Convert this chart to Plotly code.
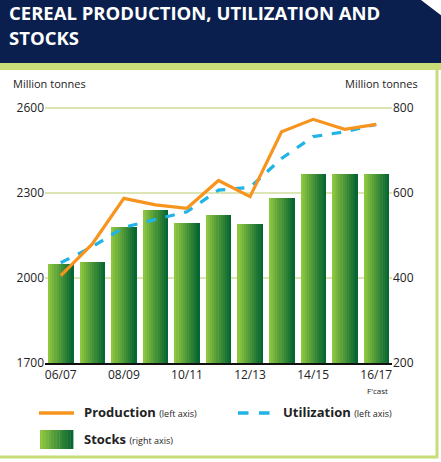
import plotly.graph_objects as go

seasons = ["06/07", "07/08", "08/09", "09/10", "10/11", "11/12", "12/13", "13/14", "14/15", "15/16", "16/17"]
tick_labels = ["06/07", "", "08/09", "", "10/11", "", "12/13", "", "14/15", "", "16/17"]
production = [2008, 2120, 2281, 2258, 2246, 2344, 2287, 2516, 2560, 2525, 2542]
utilization = [2054, 2110, 2179, 2207, 2234, 2310, 2320, 2422, 2499, 2516, 2542]
stocks = [432, 437, 519, 560, 530, 548, 526, 589, 644, 644, 644]

W, H = 441, 462
L, R, T, B = 45, 392, 100, 363


def px_x(px):
    return (px - L) / (R - L)


def px_y(py):
    return (B - py) / (B - T)


def lerp_color(c1, c2, t):
    r = round(c1[0] + (c2[0] - c1[0]) * t)
    g = round(c1[1] + (c2[1] - c1[1]) * t)
    b = round(c1[2] + (c2[2] - c1[2]) * t)
    return f"rgb({r},{g},{b})"


LIGHT = (141, 198, 63)
DARK = (8, 102, 50)
NAVY = "#0b1f4e"
GRID = "#dbe6b4"
BORDER = "#c8dc78"

xs = list(range(len(seasons)))
fig = go.Figure()

# Gradient bars built from slices
N = 12
bw = 0.8
for k in range(N):
    t = k / (N - 1)
    fig.add_trace(go.Bar(
        x=xs, y=stocks, yaxis="y",
        offset=-bw / 2 + k * bw / N, width=bw / N + 0.01,
        marker=dict(color=lerp_color(LIGHT, DARK, t), line=dict(width=0)),
        showlegend=False, hoverinfo="skip",
    ))

fig.add_trace(go.Scatter(
    x=xs, y=utilization, yaxis="y2", mode="lines",
    line=dict(color="#1fb3e6", width=3.2, dash="dash"), showlegend=False,
))
fig.add_trace(go.Scatter(
    x=xs, y=production, yaxis="y2", mode="lines",
    line=dict(color="#f7941d", width=3.2), showlegend=False,
))

shapes = []
# title band
shapes.append(dict(type="rect", xref="paper", yref="paper", x0=px_x(0), x1=px_x(W),
                   y0=px_y(63), y1=px_y(0), fillcolor=NAVY, line=dict(width=0), layer="below"))
shapes.append(dict(type="rect", xref="paper", yref="paper", x0=px_x(0), x1=px_x(W),
                   y0=px_y(70), y1=px_y(63), fillcolor=BORDER, line=dict(width=0), layer="below"))
# cut corner
shapes.append(dict(type="path", xref="paper", yref="paper",
                   path=f"M {px_x(421)} {px_y(0)} L {px_x(442)} {px_y(0)} L {px_x(442)} {px_y(16)} Z",
                   fillcolor="white", line=dict(width=0)))
# panel border right and bottom
shapes.append(dict(type="line", xref="paper", yref="paper", x0=px_x(437), x1=px_x(437),
                   y0=px_y(70), y1=px_y(458), line=dict(color=BORDER, width=3)))
shapes.append(dict(type="line", xref="paper", yref="paper", x0=px_x(0), x1=px_x(438),
                   y0=px_y(457), y1=px_y(457), line=dict(color=BORDER, width=3)))
# legend symbols
shapes.append(dict(type="line", xref="paper", yref="paper", x0=px_x(39), x1=px_x(74),
                   y0=px_y(413), y1=px_y(413), line=dict(color="#f7941d", width=3.5)))
shapes.append(dict(type="line", xref="paper", yref="paper", x0=px_x(238), x1=px_x(274),
                   y0=px_y(413), y1=px_y(413), line=dict(color="#1fb3e6", width=3.5, dash="dash")))
NS = 12
for k in range(NS):
    x0 = 40 + k * 33 / NS
    shapes.append(dict(type="rect", xref="paper", yref="paper", x0=px_x(x0), x1=px_x(x0 + 33 / NS + 0.4),
                       y0=px_y(449), y1=px_y(430), fillcolor=lerp_color(LIGHT, DARK, k / (NS - 1)),
                       line=dict(width=0)))

ann = []
title_font = dict(family="Open Sans", size=18.5, color="white")
ann.append(dict(text="<b>CEREAL PRODUCTION, UTILIZATION AND</b>", xref="paper", yref="paper",
                x=px_x(7), y=px_y(13), xanchor="left", yanchor="middle", showarrow=False, font=title_font))
ann.append(dict(text="<b>STOCKS</b>", xref="paper", yref="paper",
                x=px_x(7), y=px_y(38), xanchor="left", yanchor="middle", showarrow=False, font=title_font))
unit_font = dict(family="Open Sans", size=11, color="#222")
ann.append(dict(text="Million tonnes", xref="paper", yref="paper", x=px_x(11), y=px_y(84),
                xanchor="left", yanchor="middle", showarrow=False, font=unit_font))
ann.append(dict(text="Million tonnes", xref="paper", yref="paper", x=px_x(420), y=px_y(84),
                xanchor="right", yanchor="middle", showarrow=False, font=unit_font))
ann.append(dict(text="F'cast", xref="paper", yref="paper", x=px_x(377), y=px_y(390),
                xanchor="center", yanchor="middle", showarrow=False,
                font=dict(family="Open Sans", size=8, color="#222")))
leg_font = dict(family="Open Sans", size=13, color="#222")
ann.append(dict(text="<b>Production</b> <span style='font-size:9px'>(left axis)</span>", xref="paper", yref="paper",
                x=px_x(82), y=px_y(412), xanchor="left", yanchor="middle", showarrow=False, font=leg_font))
ann.append(dict(text="<b>Utilization</b> <span style='font-size:9px'>(left axis)</span>", xref="paper", yref="paper",
                x=px_x(281), y=px_y(412), xanchor="left", yanchor="middle", showarrow=False, font=leg_font))
ann.append(dict(text="<b>Stocks</b> <span style='font-size:9px'>(right axis)</span>", xref="paper", yref="paper",
                x=px_x(82), y=px_y(439), xanchor="left", yanchor="middle", showarrow=False, font=leg_font))

left_range = [1700, 1700 + 900 * (B - T) / 255]
right_range = [200, 200 + 600 * (B - T) / 255]
tick_font = dict(family="Open Sans", size=12, color="#222")

fig.update_layout(
    width=W, height=H,
    margin=dict(l=L, r=W - R, t=T, b=H - B),
    paper_bgcolor="white", plot_bgcolor="white",
    barmode="overlay", bargap=0,
    showlegend=False,
    shapes=shapes, annotations=ann,
    xaxis=dict(range=[-0.5, 10.5], tickvals=xs, ticktext=tick_labels, showgrid=False,
               showline=True, linecolor="#111", linewidth=2, ticks="", tickfont=tick_font,
               zeroline=False, fixedrange=True),
    yaxis=dict(side="right", range=right_range, tickvals=[200, 400, 600, 800], showgrid=True,
               gridcolor=GRID, gridwidth=1.5, zeroline=False, tickfont=tick_font, ticks=""),
    yaxis2=dict(side="left", overlaying="y", range=left_range, tickvals=[1700, 2000, 2300, 2600],
                showgrid=False, zeroline=False, tickfont=tick_font, ticks=""),
)

fig.write_html("out.html")
